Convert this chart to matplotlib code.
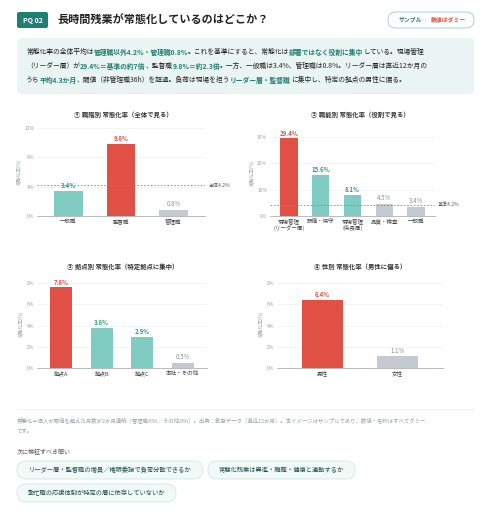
import matplotlib
matplotlib.use("Agg")
import matplotlib.pyplot as plt
from matplotlib.patches import FancyBboxPatch

plt.rcParams['font.family'] = ['Noto Sans CJK JP', 'DejaVu Sans']

RED = '#e05045'; TEAL = '#80cbc2'; GRAY = '#c5cad1'
DTEAL = '#1f7f72'; LTXT = '#9aa3ad'; DARK = '#222222'

c1_cats = ['一般職', '監督職', '管理職']
c1_vals = [3.4, 9.8, 0.8]
c1_cols = [TEAL, RED, GRAY]
c2_cats = ['現場管理\n(リーダー層)', '設備・保守', '現場管理\n(係長層)', '品質・検査', '一般職']
c2_vals = [29.4, 15.6, 8.1, 4.5, 3.4]
c2_cols = [RED, TEAL, TEAL, GRAY, GRAY]
c3_cats = ['拠点A', '拠点B', '拠点C', '本社・その他']
c3_vals = [7.6, 3.8, 2.9, 0.5]
c3_cols = [RED, TEAL, TEAL, GRAY]
c4_cats = ['男性', '女性']
c4_vals = [6.4, 1.1]
c4_cols = [RED, GRAY]

W, H = 492, 512
fig = plt.figure(figsize=(W/100, H/100), dpi=100)
fig.patch.set_facecolor('white')
bg = fig.add_axes([0, 0, 1, 1]); bg.set_xlim(0, W); bg.set_ylim(H, 0); bg.axis('off')

def box(x, y, w, h, fc, ec='none', r=3, lw=0.6):
    bg.add_patch(FancyBboxPatch((x, y), w, h, boxstyle=f"round,pad=0,rounding_size={r}",
                                fc=fc, ec=ec, lw=lw))

box(17, 12, 31, 16, '#1f7f72', r=2)
bg.text(32.5, 20, 'PQ 02', color='white', fontsize=5, fontweight='bold', ha='center', va='center')
bg.text(57, 20, '長時間残業が常態化しているのはどこか？', fontsize=8, fontweight='bold', color=DARK, va='center')
box(388, 12, 86, 16, 'white', ec='#8fd0c6', r=8)
bg.text(410, 20, 'サンプル', fontsize=4.2, color=DTEAL, ha='center', va='center', fontweight='bold')
bg.text(425, 20, '|', fontsize=4.2, color='#cccccc', ha='center', va='center')
bg.text(448, 20, '数値はダミー', fontsize=4.2, color=RED, ha='center', va='center', fontweight='bold')

box(17, 38, 457, 56, '#eaf5f3', r=5)
lines = [
    [('常態化率の全体平均は', DARK), ('管理職以外4.2%・管理職0.8%', DTEAL), ('。これを基準にすると、常態化は', DARK), ('部署ではなく役割に集中', DTEAL), ('している。現場管理', DARK)],
    [('（リーダー層）が', DARK), ('29.4%＝基準の約7倍', DTEAL), ('、監督職', DARK), ('9.8%＝約2.3倍', DTEAL), ('。一方、一般職は3.4%、管理職は0.8%。リーダー層は直近12か月の', DARK)],
    [('うち', DARK), ('平均4.3か月', DTEAL), ('、閾値（非管理職36h）を超過。負荷は現場を担う', DARK), ('リーダー層・監督職', DTEAL), ('に集中し、特定の拠点の男性に偏る。', DARK)],
]
for i, segs in enumerate(lines):
    y = 52 + i * 14
    prev = None
    for s, c in segs:
        kw = dict(fontsize=4.9, color=c, va='center', ha='left',
                  fontweight='bold' if c == DTEAL else 'normal')
        if prev is None:
            prev = bg.text(26, y, s, **kw)
        else:
            prev = bg.annotate(s, xy=(1, 0.5), xycoords=prev, **kw)

def chart(rect, title, tx, ty, cats, vals, cols, ylim, ticks, ref=None, reflab=None):
    l, t, rr, b = rect
    ax = fig.add_axes([l/W, 1-b/H, (rr-l)/W, (b-t)/H])
    x = range(len(cats))
    ax.bar(x, vals, color=cols, width=0.55, zorder=2)
    ax.set_ylim(0, ylim); ax.set_yticks(ticks)
    ax.set_yticklabels([f'{v}%' for v in ticks], fontsize=3.6, color=LTXT)
    ax.set_xticks(list(x)); ax.set_xticklabels(cats, fontsize=4.0, color='#444444', linespacing=1.1)
    ax.tick_params(length=0, pad=2)
    for s in ['top', 'right', 'left']: ax.spines[s].set_visible(False)
    ax.spines['bottom'].set_color('#aab0b8'); ax.spines['bottom'].set_linewidth(0.6)
    ax.grid(axis='y', color='#f0f0f0', lw=0.5, zorder=0); ax.set_axisbelow(True)
    ax.set_ylabel('常態化率(%)', fontsize=3.4, color=LTXT, labelpad=2)
    ax.set_xlim(-0.6, len(cats) - 0.4)
    for i, (v, c) in enumerate(zip(vals, cols)):
        lc = {RED: RED, TEAL: '#2a9d8f', GRAY: '#8a929b'}[c]
        ax.text(i, v + ylim * 0.02, f'{v}%', ha='center', va='bottom', fontsize=4.4, color=lc,
                fontweight='bold' if c != GRAY else 'normal', zorder=3)
    if ref is not None:
        ax.axhline(ref, color='#888888', lw=0.6, ls=(0, (2, 2)), zorder=3)
        ax.text(1.02, ref, reflab, transform=ax.get_yaxis_transform(), fontsize=3.6,
                color='#555555', va='center', ha='left')
    bg.text(tx, ty, title, fontsize=4.6, color='#333333', ha='center', va='center', fontweight='bold')

chart((37, 128, 205, 216), '① 職階別 常態化率（全体で見る）', 123, 115, c1_cats, c1_vals, c1_cols,
      12, [0, 4, 8, 12], 4.2, '全体4.2%')
chart((270, 129, 435, 216), '② 職能別 常態化率（役割で見る）', 360, 115, c2_cats, c2_vals, c2_cols,
      33, [0, 10, 20, 30], 4.2, '基準4.2%')
chart((37, 280, 207, 368), '③ 拠点別 常態化率（特定拠点に集中）', 123, 266, c3_cats, c3_vals, c3_cols,
      8.3, [0, 2, 4, 6, 8])
chart((277, 280, 443, 368), '④ 性別 常態化率（男性に偏る）', 360, 266, c4_cats, c4_vals, c4_cols,
      8.3, [0, 2, 4, 6, 8])

bg.plot([17, 474], [409, 409], color='#eeeeee', lw=0.6)
bg.text(17, 420, '常態化＝個人が閾値を超えた月数が2か月連続（管理職45h／その他36h）。出典：勤怠データ（直近12か月）。本イメージはサンプルであり、数値・名称はすべてダミー',
        fontsize=3.9, color=LTXT, va='center')
bg.text(17, 431, 'です。', fontsize=3.9, color=LTXT, va='center')
bg.text(17, 451, '次に検証すべき問い', fontsize=4.3, color='#555555', va='center')
pills = [(17, 461, 186, 'リーダー層・監督職の増員／権限委譲で負荷分散できるか'),
         (208, 461, 147, '常態化残業は昇進・離職・健康と連動するか'),
         (17, 484, 159, '繁忙職の応援体制が特定の層に依存していないか')]
for x, y, w, s in pills:
    box(x, y, w, 18, '#f2faf8', ec='#cfe9e4', r=9)
    bg.text(x + w/2, y + 9, s, fontsize=4.5, color='#1d4d47', ha='center', va='center')

fig.savefig('out.png', dpi=100, facecolor='white')
